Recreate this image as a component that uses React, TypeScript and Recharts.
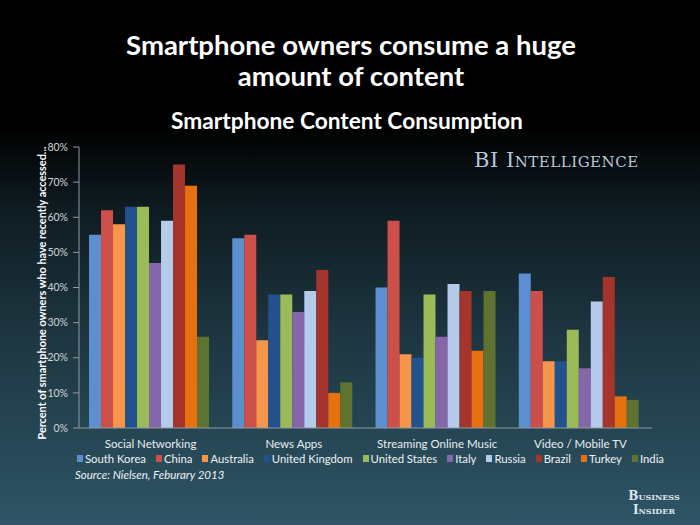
import { BarChart, Bar, XAxis, YAxis, Legend } from "recharts"

const categories = ["Social Networking", "News Apps", "Streaming Online Music", "Video / Mobile TV"]

const southKorea    = [55, 54, 40, 44]
const china         = [62, 55, 59, 39]
const australia     = [58, 25, 21, 19]
const unitedKingdom = [63, 38, 20, 19]
const unitedStates  = [63, 38, 38, 28]
const italy         = [47, 33, 26, 17]
const russia        = [59, 39, 41, 36]
const brazil        = [75, 45, 39, 43]
const turkey        = [69, 10, 22, 9]
const india         = [26, 13, 39, 8]

const yTicks = [0, 10, 20, 30, 40, 50, 60, 70, 80]

const series = [
  { name: "South Korea",    values: southKorea },
  { name: "China",          values: china },
  { name: "Australia",      values: australia },
  { name: "United Kingdom", values: unitedKingdom },
  { name: "United States",  values: unitedStates },
  { name: "Italy",          values: italy },
  { name: "Russia",         values: russia },
  { name: "Brazil",         values: brazil },
  { name: "Turkey",         values: turkey },
  { name: "India",          values: india },
]

const COLORS: Record<string, string> = {
  "South Korea":    "#5b8fd0",
  "China":          "#cd4f49",
  "Australia":      "#f7964a",
  "United Kingdom": "#22528e",
  "United States":  "#9bbb59",
  "Italy":          "#8566a8",
  "Russia":         "#b4cbea",
  "Brazil":         "#a5342d",
  "Turkey":         "#e8710f",
  "India":          "#5f7331",
}

const data = categories.map((cat, i) => {
  const row: Record<string, string | number> = { category: cat }
  series.forEach(s => { row[s.name] = s.values[i] })
  return row
})

const FONT = "Lato, 'Open Sans', sans-serif"
const AXIS = "#8c9ca4"

// legend in series order (the built-in one sorts by name)
function CountryLegend() {
  return (
    <div style={{ display: "flex", gap: 10, fontSize: 11.3, fontFamily: FONT, color: "#eef2f4", whiteSpace: "nowrap" }}>
      {series.map(s => (
        <div key={s.name} style={{ display: "flex", alignItems: "center", gap: 2 }}>
          <div style={{ width: 6, height: 7, background: COLORS[s.name] }} />
          <span>{s.name}</span>
        </div>
      ))}
    </div>
  )
}

export default function App() {
  return (
    <div
      style={{
        position: "fixed",
        top: 0,
        left: 0,
        width: 700,
        height: 525,
        overflow: "hidden",
        fontFamily: FONT,
        background: "linear-gradient(to bottom, #000000 0%, #000000 24%, #0f1c22 40%, #1e3742 65%, #2e5566 100%)",
      }}
    >
      <div style={{ position: "absolute", top: 29, left: 0, width: 702, textAlign: "center", color: "#fff", fontWeight: 700, fontSize: 27.5, lineHeight: "31px" }}>
        Smartphone owners consume a huge<br />amount of content
      </div>
      <div style={{ position: "absolute", top: 107, left: 0, width: 694, textAlign: "center", color: "#fff", fontWeight: 700, fontSize: 22.7 }}>
        Smartphone Content Consumption
      </div>
      <div style={{ position: "absolute", top: 148, left: 474, color: "#b9c8d8", fontFamily: "'DejaVu Serif', serif", fontVariant: "small-caps", fontSize: 21, letterSpacing: 0.5 }}>
        BI Intelligence
      </div>
      <div
        style={{
          position: "absolute",
          left: 41,
          top: 293,
          transform: "translate(-50%, -50%) rotate(-90deg)",
          whiteSpace: "nowrap",
          color: "#fff",
          fontWeight: 700,
          fontSize: 10.9,
        }}
      >
        Percent of smartphone owners who have recently accessed...
      </div>
      <BarChart
        width={700}
        height={525}
        data={data}
        margin={{ top: 147, right: 48, bottom: 67, left: 29 }}
        barGap={0}
        barCategoryGap="7%"
        style={{ position: "absolute", top: 0, left: 0 }}
      >
        <XAxis
          dataKey="category"
          stroke={AXIS}
          tickLine={false}
          tick={{ fontSize: 11.5, fill: "#e8eef0", fontFamily: FONT }}
          tickMargin={6}
        />
        <YAxis
          width={50}
          domain={[0, 80]}
          ticks={yTicks}
          stroke={AXIS}
          tickSize={6}
          tickMargin={5}
          tickFormatter={(v: number) => `${v}%`}
          tick={{ fontSize: 10.5, fill: "#cfd6da", fontFamily: FONT }}
        />
        <Legend
          layout="horizontal"
          verticalAlign="middle"
          align="center"
          content={<CountryLegend />}
          wrapperStyle={{ top: 452, left: 77, width: 600 }}
        />
        {series.map(s => (
          <Bar key={s.name} dataKey={s.name} fill={COLORS[s.name]} isAnimationActive={false} />
        ))}
      </BarChart>
      <div style={{ position: "absolute", top: 468, left: 75, color: "#eef2f4", fontStyle: "italic", fontSize: 11.5 }}>
        Source: Nielsen, Feburary 2013
      </div>
      <div style={{ position: "absolute", top: 489, left: 627, width: 54, color: "#dfe6ea", fontFamily: "'DejaVu Serif', serif", fontVariant: "small-caps", fontWeight: 700, fontSize: 12, lineHeight: "14px", textAlign: "center" }}>
        Business<br />Insider
      </div>
    </div>
  )
}
